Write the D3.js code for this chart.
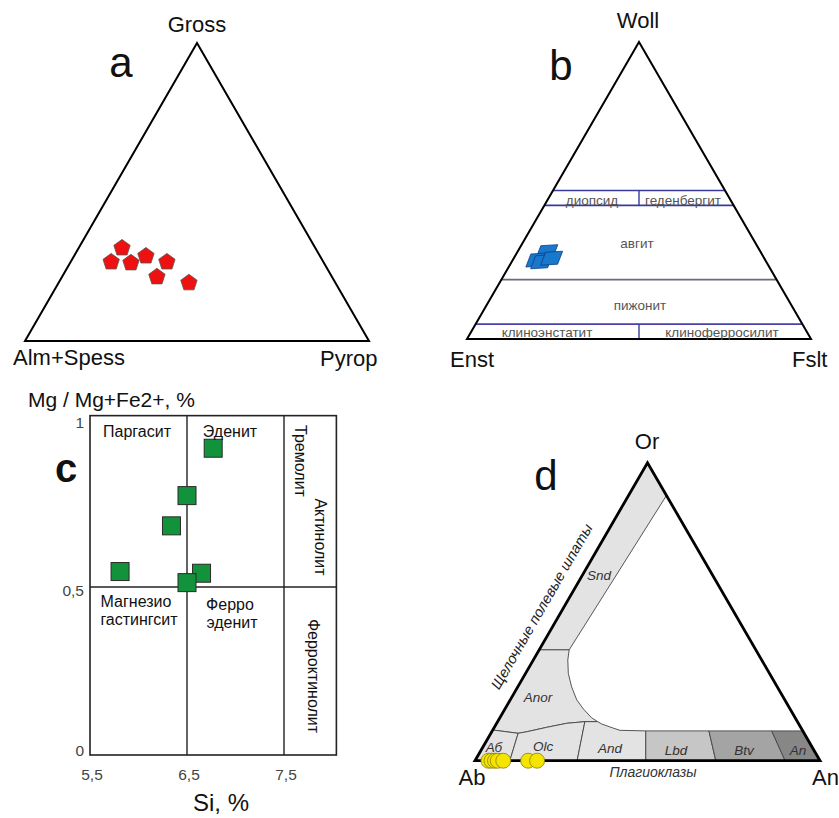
<!DOCTYPE html>
<html><head><meta charset="utf-8">
<script src="https://cdn.jsdelivr.net/npm/d3@7"></script>
<style>body{margin:0;background:#fff}svg{display:block;font-family:Arial,"Liberation Sans",sans-serif}</style>
</head><body><svg id="chart" width="839" height="818"></svg>
<script>
// ---------- DATA ----------
// (a) garnets, mol %: Gross (top), Pyrop (right), Alm+Spess = remainder
const garnetGross = [31.2, 26.5, 26.2, 28.5, 26.5, 21.5, 19.5];
const garnetPyrop = [12.6, 11.8, 17.7, 20.9, 28.0, 27.6, 37.9];
// (b) pyroxenes: Woll (top), Fslt (right), Enst = remainder
const pyxWoll = [29.4, 26.6, 26.0, 27.2];
const pyxFslt = [8.5, 7.0, 8.7, 11.0];
const pyxFieldWoll = [50, 45, 20, 5];           // field boundaries
const pyxFieldNames = ["диопсид", "геденбергит", "авгит", "пижонит", "клиноэнстатит", "клиноферросилит"];
// (c) amphiboles
const amphSi = [6.77, 6.50, 6.34, 5.81, 6.65, 6.50];
const amphMg = [0.913, 0.772, 0.682, 0.546, 0.541, 0.513];
const amphXTicks = [5.5, 6.5, 7.5];
const amphXTickLabels = ["5,5", "6,5", "7,5"];
const amphYTicks = [0, 0.5, 1];
const amphYTickLabels = ["0", "0,5", "1"];
// (d) feldspars: An (right), Or (top), Ab = remainder
const fspAn = [3.9, 4.8, 5.8, 6.6, 8.2, 15.4, 18.0];
const fspOr = [0, 0, 0, 0, 0, 0, 0];
// (d) classification fields, [An, Or]
const fieldSnd  = [[0,100],[0,37.2],[8.7,37.2],[11,89]];
const fieldAnor = [[0,37.2],[8.7,37.2],[10,33.8],[12.4,29.3],[15.6,24.8],[19.3,20.4],[22.8,17.3],[26.6,14.4],[29,13.1],
                   [25.3,13.1],[20.3,12.55],[15.2,11.2],[10.1,9.7],[7.9,9.2],[0,10.3]];
const fieldAb   = [[0,10.3],[7.9,9.2],[10.1,0],[0,0]];
const fieldOlc  = [[7.9,9.2],[10.1,9.7],[15.2,11.2],[20.3,12.55],[25.3,13.1],[29.6,0],[10.1,0]];
const fieldAnd  = [[25.3,13.1],[29,13.1],[30.6,12.3],[34.7,10.9],[36.9,10.2],[44.5,10],[49.5,0],[29.6,0]];
const fieldLbd  = [[44.5,10],[62.8,10],[69.8,0],[49.5,0]];
const fieldBtv  = [[62.8,10],[81,10],[89.9,0],[69.8,0]];
const fieldAn   = [[81,10],[90,10],[100,0],[89.9,0]];

// ---------- HELPERS ----------
const svg = d3.select("#chart");
function ternary(x0, x1, yb, yt) {
  const sx = d3.scaleLinear().domain([0, 100]).range([x0, x1]);
  const sy = d3.scaleLinear().domain([0, 100]).range([yb, yt]);
  return (right, top) => [sx(right + top / 2), sy(top)];
}
function tri(g, P, w) {
  g.append("path").attr("d", "M" + [P(0,0), P(100,0), P(0,100)].join("L") + "Z")
    .attr("fill", "none").attr("stroke", "#000").attr("stroke-width", w).attr("stroke-linejoin", "miter");
}
function txt(x, y, s, size, opts = {}) {
  const t = svg.append("text").attr("x", x).attr("y", y).text(s)
    .attr("font-size", size).attr("fill", opts.fill || "#111")
    .attr("text-anchor", opts.anchor || "middle");
  if (opts.italic) t.attr("font-style", "italic");
  if (opts.bold) t.attr("font-weight", "bold");
  if (opts.rotate != null) t.attr("transform", `rotate(${opts.rotate},${x},${y})`);
  return t;
}
const line = d3.line();

// ---------- (a) ----------
const pa = ternary(25, 369, 341, 43);
const ga = svg.append("g");
tri(ga, pa, 2);
const pent = r => "M" + d3.range(5).map(i => {
  const a = -Math.PI / 2 + i * 2 * Math.PI / 5; return [r * Math.cos(a), r * Math.sin(a)];
}).join("L") + "Z";
ga.selectAll("path.pt").data(garnetGross).join("path").attr("class", "pt")
  .attr("d", pent(8.6))
  .attr("transform", (g, i) => `translate(${pa(garnetPyrop[i], g)})`)
  .attr("fill", "#ee1111").attr("stroke", "#555").attr("stroke-width", 0.8);
txt(197, 32, "Gross", 22);
txt(13, 365, "Alm+Spess", 22, {anchor: "start"});
txt(320, 366, "Pyrop", 22, {anchor: "start"});
txt(121, 77, "a", 42);

// ---------- (b) ----------
const pb = ternary(467, 811, 339, 42);
const gb = svg.append("g");
const bColors = ["#3a3a9c", "#3a3a9c", "#6a6a7c", "#4a40aa"];
pyxFieldWoll.forEach((w, i) => {
  gb.append("path").attr("d", line([pb(0, w), pb(100 - w, w)]))
    .attr("stroke", bColors[i]).attr("stroke-width", 1.6).attr("fill", "none");
});
[[50, 45], [5, 0]].forEach(([w1, w2]) => {
  gb.append("path").attr("d", line([pb((100 - w1) / 2, w1), pb((100 - w2) / 2, w2)]))
    .attr("stroke", "#3a3a9c").attr("stroke-width", 1.4);
});
tri(gb, pb, 2);
const skew = "M-6,-6L11,-7L6,6L-11,7Z";
gb.selectAll("path.px").data(pyxWoll).join("path").attr("class", "px")
  .attr("d", skew)
  .attr("transform", (w, i) => `translate(${pb(pyxFslt[i], w)})`)
  .attr("fill", "#1878cc").attr("stroke", "#0c3f80").attr("stroke-width", 0.8);
const bf = {fill: "#555"};
txt(592, 205, pyxFieldNames[0], 13.5, bf);
txt(683, 205, pyxFieldNames[1], 13.5, bf);
txt(637, 248, pyxFieldNames[2], 13.5, bf);
txt(640, 310, pyxFieldNames[3], 13.5, bf);
txt(547, 337, pyxFieldNames[4], 13.5, bf);
txt(722, 337, pyxFieldNames[5], 13.5, bf);
txt(638, 28, "Woll", 22);
txt(450, 367, "Enst", 22, {anchor: "start"});
txt(792, 367, "Fslt", 22, {anchor: "start"});
txt(561, 80, "b", 42);

// ---------- (c) ----------
const cx = d3.scaleLinear().domain([5.5, 7.5]).range([90, 284]);
const cy = d3.scaleLinear().domain([0, 1]).range([755, 419]);
const gc = svg.append("g");
const xMax = 8.04, yMax = 1.01;
gc.append("rect").attr("x", cx(5.5)).attr("y", cy(yMax))
  .attr("width", cx(xMax) - cx(5.5)).attr("height", cy(0) - cy(yMax))
  .attr("fill", "none").attr("stroke", "#222").attr("stroke-width", 1.6);
gc.append("path").attr("d", line([[cx(5.5), cy(0.5)], [cx(xMax), cy(0.5)]])).attr("stroke", "#222").attr("stroke-width", 1.6);
gc.append("path").attr("d", line([[cx(6.5), cy(0)], [cx(6.5), cy(yMax)]])).attr("stroke", "#222").attr("stroke-width", 1.4);
gc.append("path").attr("d", line([[cx(7.5), cy(0)], [cx(7.5), cy(yMax)]])).attr("stroke", "#222").attr("stroke-width", 1.4);
amphXTicks.forEach((v, i) => txt(cx(v) + 2, 780, amphXTickLabels[i], 15.5, {fill: "#444"}));
amphYTicks.forEach((v, i) => txt(84, cy(v) + (v === 1 ? 9 : v === 0 ? 1 : 9), amphYTickLabels[i], 15.5, {fill: "#444", anchor: "end"}));
gc.selectAll("rect.pt").data(amphSi).join("rect").attr("class", "pt")
  .attr("x", d => cx(d) - 9).attr("y", (d, i) => cy(amphMg[i]) - 9)
  .attr("width", 18).attr("height", 18)
  .attr("fill", "#12923a").attr("stroke", "#2a2a2a").attr("stroke-width", 1);
txt(137, 437, "Паргасит", 16);
txt(230, 437, "Эденит", 16);
txt(136, 607, "Магнезио", 16);
txt(139, 625, "гастингсит", 16);
txt(230, 610, "Ферро", 16);
txt(232, 628, "эденит", 16);
txt(295, 461, "Тремолит", 16, {rotate: 90});
txt(315, 537, "Актинолит", 16, {rotate: 90});
txt(308, 676, "Ферроктинолит", 16, {rotate: 90});
txt(28, 407, "Mg / Mg+Fe2+, %", 21, {anchor: "start"});
txt(221, 811, "Si, %", 24);
txt(66, 482, "c", 40, {bold: true});

// ---------- (d) ----------
const pd = ternary(475, 820, 760.7, 462.7);
const gd = svg.append("g");
const fields = [[fieldSnd, "#e3e3e3"], [fieldAnor, "#e3e3e3"], [fieldAb, "#e3e3e3"], [fieldOlc, "#e3e3e3"],
                [fieldAnd, "#e3e3e3"], [fieldLbd, "#c6c6c6"], [fieldBtv, "#a4a4a4"], [fieldAn, "#878787"]];
fields.forEach(([f, c]) => {
  gd.append("path").attr("d", line(f.map(p => pd(p[0], p[1]))) + "Z")
    .attr("fill", c).attr("stroke", "#444").attr("stroke-width", 0.9).attr("stroke-linejoin", "round");
});
tri(gd, pd, 2.8);
const dl = {italic: true, fill: "#333"};
txt(599, 580, "Snd", 13.5, dl);
txt(538, 702, "Anor", 13.5, dl);
txt(494, 752, "Аб", 13.5, dl);
txt(543, 751, "Olc", 13.5, dl);
txt(610, 753, "And", 13.5, dl);
txt(676, 755, "Lbd", 13.5, dl);
txt(744, 755, "Btv", 13.5, dl);
txt(798, 755, "An", 13.5, dl);
gd.selectAll("circle").data(fspAn).join("circle")
  .attr("cx", (a, i) => pd(a, fspOr[i])[0]).attr("cy", (a, i) => pd(a, fspOr[i])[1])
  .attr("r", 7.5).attr("fill", "#f4e400").attr("stroke", "#8a7d10").attr("stroke-width", 0.8);
txt(653, 777, "Плагиоклазы", 14, dl);
txt(546, 609, "Щелочные полевые шпаты", 14.5, {italic: true, fill: "#222", rotate: -60});
txt(647, 449, "Or", 22);
txt(472, 785, "Ab", 22);
txt(812, 785, "An", 22, {anchor: "start"});
txt(546, 490, "d", 42);
</script></body></html>
